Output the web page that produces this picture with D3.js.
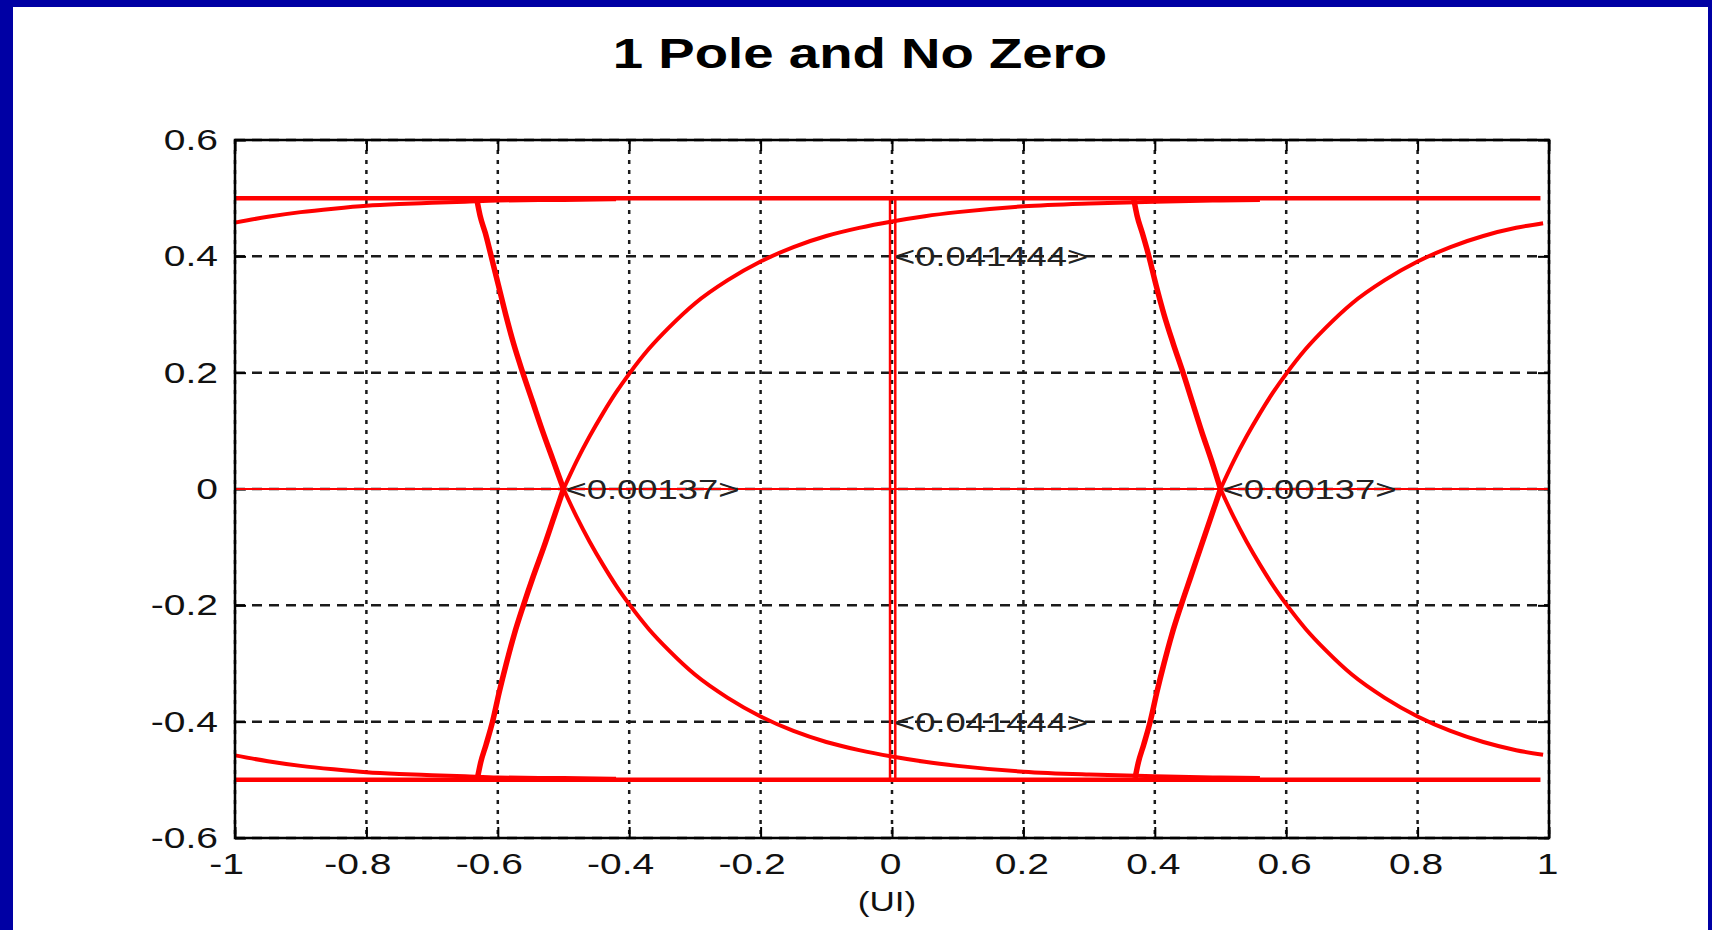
<!DOCTYPE html>
<html>
<head>
<meta charset="utf-8">
<script src="https://cdn.jsdelivr.net/npm/d3@7"></script>
<style>
  html, body { margin: 0; padding: 0; background: #0000a4; overflow: hidden; }
  svg { display: block; }
  text { font-family: "Liberation Sans", Arial, Helvetica, sans-serif; fill: #111; }
</style>
</head>
<body>
<div id="chart"></div>
<script>
// ---- axis ticks ----
const xTicks = [-1, -0.8, -0.6, -0.4, -0.2, 0, 0.2, 0.4, 0.6, 0.8, 1];
const xTickLabels = ['-1', '-0.8', '-0.6', '-0.4', '-0.2', '0', '0.2', '0.4', '0.6', '0.8', '1'];
const yTicks = [-0.6, -0.4, -0.2, 0, 0.2, 0.4, 0.6];
const yTickLabels = ['-0.6', '-0.4', '-0.2', '0', '0.2', '0.4', '0.6'];

// ---- eye diagram traces, [UI, volts] ----
// flat rails (high / low)
const railHigh = [[-1, 0.5], [0.987, 0.5]];
const railLow = [[-1, -0.5], [0.987, -0.5]];
// decision threshold line
const zeroLine = [[-1, 0], [1, 0]];

// tail of the previous bit settling toward the rails
const tailHigh = [[-1, 0.458], [-0.95, 0.468], [-0.9, 0.476], [-0.85, 0.482], [-0.8, 0.487], [-0.75, 0.49],
  [-0.7, 0.492], [-0.65, 0.494], [-0.6, 0.496], [-0.5, 0.497], [-0.42, 0.498]];
const tailLow = [[-1, -0.458], [-0.95, -0.468], [-0.9, -0.476], [-0.85, -0.482], [-0.8, -0.487], [-0.75, -0.49],
  [-0.7, -0.492], [-0.65, -0.494], [-0.6, -0.496], [-0.5, -0.497], [-0.42, -0.498]];

// 1-pole rise / fall out of the left crossing
const riseLeft = [[-0.5, 0], [-0.48, 0.048], [-0.46, 0.091], [-0.44, 0.13], [-0.42, 0.166], [-0.4, 0.198],
  [-0.37, 0.241], [-0.34, 0.277], [-0.3, 0.319], [-0.25, 0.359], [-0.2, 0.391], [-0.15, 0.416], [-0.1, 0.435],
  [-0.05, 0.449], [0, 0.46], [0.05, 0.469], [0.1, 0.476], [0.2, 0.486], [0.3, 0.491], [0.4, 0.494],
  [0.5, 0.496], [0.56, 0.497]];
const fallLeft = [[-0.5, 0], [-0.48, -0.048], [-0.46, -0.091], [-0.44, -0.13], [-0.42, -0.166], [-0.4, -0.198],
  [-0.37, -0.241], [-0.34, -0.277], [-0.3, -0.319], [-0.25, -0.359], [-0.2, -0.391], [-0.15, -0.416], [-0.1, -0.435],
  [-0.05, -0.449], [0, -0.46], [0.05, -0.469], [0.1, -0.476], [0.2, -0.486], [0.3, -0.491], [0.4, -0.494],
  [0.5, -0.496], [0.56, -0.497]];

// 1-pole rise / fall out of the right crossing
const riseRight = [[0.5, 0], [0.52, 0.048], [0.54, 0.091], [0.56, 0.13], [0.58, 0.166], [0.6, 0.198],
  [0.63, 0.241], [0.66, 0.277], [0.7, 0.319], [0.75, 0.359], [0.8, 0.391], [0.85, 0.416], [0.9, 0.435],
  [0.95, 0.449], [0.991, 0.457]];
const fallRight = [[0.5, 0], [0.52, -0.048], [0.54, -0.091], [0.56, -0.13], [0.58, -0.166], [0.6, -0.198],
  [0.63, -0.241], [0.66, -0.277], [0.7, -0.319], [0.75, -0.359], [0.8, -0.391], [0.85, -0.416], [0.9, -0.435],
  [0.95, -0.449], [0.991, -0.457]];

// steep edges converging into the crossings
const edgeLeftHigh = [[-0.632, 0.498], [-0.627, 0.47], [-0.619, 0.44], [-0.61, 0.4], [-0.599, 0.35], [-0.588, 0.3],
  [-0.576, 0.25], [-0.562, 0.2], [-0.547, 0.15], [-0.532, 0.1], [-0.516, 0.05], [-0.5, 0]];
const edgeLeftLow = [[-0.631, -0.497], [-0.626, -0.47], [-0.618, -0.44], [-0.608, -0.4], [-0.598, -0.35], [-0.587, -0.3],
  [-0.575, -0.25], [-0.561, -0.2], [-0.546, -0.15], [-0.53, -0.1], [-0.515, -0.05], [-0.5, 0]];
const edgeRightHigh = [[0.368, 0.498], [0.373, 0.47], [0.381, 0.44], [0.391, 0.4], [0.402, 0.35], [0.414, 0.3],
  [0.428, 0.25], [0.443, 0.2], [0.457, 0.15], [0.471, 0.1], [0.486, 0.05], [0.5, 0]];
const edgeRightLow = [[0.37, -0.497], [0.375, -0.47], [0.383, -0.44], [0.393, -0.4], [0.403, -0.35], [0.414, -0.3],
  [0.426, -0.25], [0.44, -0.2], [0.455, -0.15], [0.47, -0.1], [0.485, -0.05], [0.5, 0]];

// eye-opening marker at mid UI (drawn as a doubled line)
const eyeMarkerLeft = [[-0.003, 0.5], [-0.003, -0.5]];
const eyeMarkerRight = [[0.005, 0.5], [0.005, -0.5]];

// measurement labels
const annotations = [
  { x: 0, y: 0.4, text: '<0.041444>' },
  { x: 0, y: -0.4, text: '<0.041444>' },
  { x: -0.5, y: 0, text: '<0.00137>' },
  { x: 0.5, y: 0, text: '<0.00137>' }
];

const titleText = '1 Pole and No Zero';
const xLabelText = '(UI)';

// ---- layout ----
const W = 1712, H = 930;
const margin = { left: 235, top: 140, right: 163, bottom: 92 };
const plotW = W - margin.left - margin.right;
const plotH = H - margin.top - margin.bottom;
const SX = 1.3;  // the source image is stretched horizontally
const RED = '#ff0000';

const svg = d3.select('#chart')
  .append('svg')
  .attr('width', W)
  .attr('height', H);

// blue slide border + white panel
svg.append('rect').attr('width', W).attr('height', H).attr('fill', '#0000a4');
svg.append('rect').attr('x', 13).attr('y', 7).attr('width', 1695).attr('height', H - 7).attr('fill', '#fff');

const x = d3.scaleLinear().domain([-1, 1]).range([0, plotW]);
const y = d3.scaleLinear().domain([-0.6, 0.6]).range([plotH, 0]);

const g = svg.append('g').attr('transform', `translate(${margin.left},${margin.top})`);

// grid
const grid = g.append('g').attr('class', 'grid');
grid.selectAll('.vgrid')
  .data(xTicks)
  .enter()
  .append('line')
  .attr('x1', d => x(d)).attr('x2', d => x(d))
  .attr('y1', 0).attr('y2', plotH)
  .attr('stroke', '#1a1a1a')
  .attr('stroke-width', 2.5)
  .attr('stroke-dasharray', '4,6');
grid.selectAll('.hgrid')
  .data(yTicks)
  .enter()
  .append('line')
  .attr('x1', 0).attr('x2', plotW)
  .attr('y1', d => y(d)).attr('y2', d => y(d))
  .attr('stroke', '#1a1a1a')
  .attr('stroke-width', 2.5)
  .attr('stroke-dasharray', '10,7');

// axes (MATLAB style: inward ticks on all four sides, under the data)
const TICK = -11;
function styleTicks(a) {
  a.select('.domain').remove();
  a.selectAll('.tick line').attr('stroke', '#000').attr('stroke-width', 2);
}

g.append('g')
  .call(d3.axisLeft(y).tickValues(yTicks)
    .tickFormat(d => yTickLabels[yTicks.indexOf(d)])
    .tickSizeInner(TICK).tickSizeOuter(0).tickPadding(17))
  .call(styleTicks)
  .call(a => a.selectAll('text')
    .attr('x', -17 / SX)
    .attr('transform', `scale(${SX},1)`)
    .style('font-size', '30px'));

g.append('g')
  .attr('transform', `translate(0,${plotH})`)
  .call(d3.axisBottom(x).tickValues(xTicks)
    .tickFormat(d => xTickLabels[xTicks.indexOf(d)])
    .tickSizeInner(TICK).tickSizeOuter(0).tickPadding(15))
  .call(styleTicks)
  .call(a => a.selectAll('text')
    .attr('x', d => (d < 0 ? -9 : -2) / SX)
    .attr('transform', `scale(${SX},1)`)
    .style('font-size', '30px'));

g.append('g')
  .call(d3.axisTop(x).tickValues(xTicks).tickFormat(() => '').tickSizeInner(TICK).tickSizeOuter(0))
  .call(styleTicks);

g.append('g')
  .attr('transform', `translate(${plotW},0)`)
  .call(d3.axisRight(y).tickValues(yTicks).tickFormat(() => '').tickSizeInner(TICK).tickSizeOuter(0))
  .call(styleTicks);

// traces
const line = d3.line()
  .x(d => x(d[0]))
  .y(d => y(d[1]))
  .curve(d3.curveMonotoneX);

const traces = [
  { data: zeroLine, w: 2 },
  { data: railHigh, w: 4.5 },
  { data: railLow, w: 4.5 },
  { data: tailHigh, w: 4 },
  { data: tailLow, w: 4 },
  { data: riseLeft, w: 4 },
  { data: fallLeft, w: 4 },
  { data: riseRight, w: 4 },
  { data: fallRight, w: 4 },
  { data: edgeLeftHigh, w: 5.5 },
  { data: edgeLeftLow, w: 5.5 },
  { data: edgeRightHigh, w: 5.5 },
  { data: edgeRightLow, w: 5.5 }
];

g.append('g').attr('class', 'traces')
  .selectAll('path')
  .data(traces)
  .enter()
  .append('path')
  .attr('d', d => line(d.data))
  .attr('fill', 'none')
  .attr('stroke', RED)
  .attr('stroke-width', d => d.w)
  .attr('stroke-linejoin', 'round');

g.append('g').attr('class', 'eye-marker')
  .selectAll('path')
  .data([eyeMarkerLeft, eyeMarkerRight])
  .enter()
  .append('path')
  .attr('d', d3.line().x(d => x(d[0])).y(d => y(d[1])))
  .attr('fill', 'none')
  .attr('stroke', RED)
  .attr('stroke-width', 2.5);

// box
g.append('rect')
  .attr('width', plotW)
  .attr('height', plotH)
  .attr('fill', 'none')
  .attr('stroke', '#000')
  .attr('stroke-width', 2.5);

// measurement labels
g.append('g').attr('class', 'labels')
  .selectAll('text')
  .data(annotations)
  .enter()
  .append('text')
  .attr('transform', d => `translate(${x(d.x) + 2},${y(d.y) + 10}) scale(${SX},1)`)
  .style('font-size', '28px')
  .style('fill', '#222')
  .text(d => d.text);

// title and axis label
svg.append('text')
  .attr('transform', `translate(860,68) scale(${SX},1)`)
  .attr('text-anchor', 'middle')
  .style('font-size', '42px')
  .style('font-weight', 'bold')
  .style('fill', '#000')
  .text(titleText);

svg.append('text')
  .attr('transform', `translate(887,911) scale(${SX},1)`)
  .attr('text-anchor', 'middle')
  .style('font-size', '27px')
  .text(xLabelText);
</script>
</body>
</html>
